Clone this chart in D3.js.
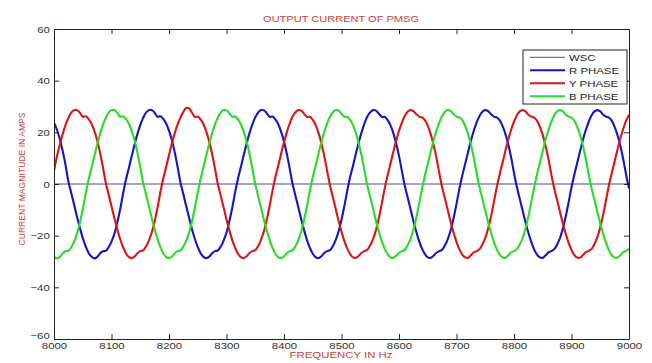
<!DOCTYPE html>
<html>
<head>
<meta charset="utf-8">
<script src="https://cdn.jsdelivr.net/npm/d3@7"></script>
<style>
  html, body { margin: 0; padding: 0; background: #fff; }
  svg { display: block; font-family: "Liberation Sans", Arial, sans-serif; }
</style>
</head>
<body>
<svg id="chart" width="652" height="363"></svg>
<script>
// ---------------- DATA ----------------
const chartTitle = "OUTPUT CURRENT OF PMSG";
const xTitle = "FREQUENCY IN Hz";
const yTitle = "CURRENT MAGNITUDE IN AMPS";
const seriesNames = ["WSC", "R PHASE", "Y PHASE", "B PHASE"];
const xTicks = [8000, 8100, 8200, 8300, 8400, 8500, 8600, 8700, 8800, 8900, 9000];
const yTicks = [-60, -40, -20, 0, 20, 40, 60];

// sample positions of the phase currents (every 5 Hz from 8000 to 9000)
const freq = d3.range(8000, 9001, 5);

// WSC trace (flat at zero)
const wscFreq = [8000, 9000];
const wscValues = [0, 0];

// R PHASE (blue)
const rPhase = [
  23.7, 21.1, 17.5, 12.9, 7.4, 1.0, -3.5, -8.0, -12.7, -17.0, -20.9, -24.1, -26.6,
  -28.1, -28.8, -28.3, -26.9, -26.0, -25.9, -24.5, -22.3, -19.3, -15.0, -9.9, -3.9, 1.6,
  6.0, 10.6, 15.2, 19.3, 22.8, 25.6, 27.6, 28.6, 28.6, 27.6, 26.0, 26.2, 25.2,
  23.4, 20.7, 17.0, 12.2, 6.6, 0.5, -4.0, -8.6, -13.2, -17.5, -21.3, -24.4, -26.8,
  -28.2, -28.7, -28.1, -26.8, -26.0, -25.7, -24.2, -21.9, -18.8, -14.4, -9.2, -3.2, 2.1,
  6.6, 11.2, 15.7, 19.7, 23.1, 25.8, 27.7, 28.6, 28.5, 27.4, 26.0, 26.1, 25.0,
  23.1, 20.2, 16.4, 11.6, 5.9, -0.1, -4.6, -9.1, -13.7, -17.9, -21.7, -24.7, -27.0,
  -28.3, -28.7, -28.0, -26.7, -26.0, -25.6, -24.0, -21.6, -18.3, -13.8, -8.5, -2.6, 2.7,
  7.1, 11.7, 16.2, 20.1, 23.5, 26.1, 27.8, 28.6, 28.4, 27.2, 26.0, 26.0, 24.8,
  22.8, 19.8, 15.8, 10.9, 5.1, -0.6, -5.1, -9.7, -14.3, -18.4, -22.1, -25.0, -27.1,
  -28.4, -28.6, -27.8, -26.6, -26.0, -25.4, -23.7, -21.2, -17.8, -13.2, -7.7, -1.9, 3.2,
  7.7, 12.3, 16.7, 20.6, 23.8, 26.3, 28.0, 28.6, 28.2, 27.0, 26.1, 25.8, 24.7,
  22.5, 19.4, 15.3, 10.3, 4.3, -1.2, -5.7, -10.3, -14.8, -18.9, -22.4, -25.3, -27.3,
  -28.4, -28.6, -27.6, -26.5, -26.0, -25.2, -23.4, -20.9, -17.2, -12.6, -7.0, -1.3, 3.7,
  8.2, 12.8, 17.2, 21.0, 24.1, 26.6, 28.1, 28.6, 28.1, 26.8, 26.1, 25.7, 24.5,
  22.1, 18.9, 14.7, 9.6, 3.6, -1.7
];

// Y PHASE (red)
const yPhase = [
  5.0, 10.6, 15.2, 19.3, 22.8, 25.6, 27.6, 28.6, 28.6, 27.6, 26.0, 26.2, 25.2,
  23.4, 20.7, 17.0, 12.2, 6.6, 0.5, -4.0, -8.6, -13.2, -17.5, -21.3, -24.4, -26.8,
  -28.2, -28.7, -28.1, -26.8, -26.0, -25.7, -24.2, -21.9, -18.8, -14.4, -9.2, -3.2, 2.1,
  6.6, 11.2, 15.7, 19.7, 23.1, 25.8, 27.9, 29.4, 29.3, 27.6, 26.0, 26.1, 25.0,
  23.1, 20.2, 16.4, 11.6, 5.9, -0.1, -4.6, -9.1, -13.7, -17.9, -21.7, -24.7, -27.0,
  -28.3, -28.7, -28.0, -26.7, -26.0, -25.6, -24.0, -21.6, -18.3, -13.8, -8.5, -2.6, 2.7,
  7.1, 11.7, 16.2, 20.1, 23.5, 26.1, 27.8, 28.6, 28.4, 27.2, 26.0, 26.0, 24.8,
  22.8, 19.8, 15.8, 10.9, 5.1, -0.6, -5.1, -9.7, -14.3, -18.4, -22.1, -25.0, -27.1,
  -28.4, -28.6, -27.8, -26.6, -26.0, -25.4, -23.7, -21.2, -17.8, -13.2, -7.7, -1.9, 3.2,
  7.7, 12.3, 16.7, 20.6, 23.8, 26.3, 28.0, 28.6, 28.2, 27.0, 26.1, 25.8, 24.7,
  22.5, 19.4, 15.3, 10.3, 4.3, -1.2, -5.7, -10.3, -14.8, -18.9, -22.4, -25.3, -27.3,
  -28.4, -28.6, -27.6, -26.5, -26.0, -25.2, -23.4, -20.9, -17.2, -12.6, -7.0, -1.3, 3.7,
  8.2, 12.8, 17.2, 21.0, 24.1, 26.6, 28.1, 28.6, 28.1, 26.8, 26.1, 25.7, 24.5,
  22.1, 18.9, 14.7, 9.6, 3.6, -1.7, -6.2, -10.8, -15.3, -19.3, -22.8, -25.6, -27.5,
  -28.5, -28.5, -27.5, -26.4, -25.9, -25.1, -23.2, -20.5, -16.7, -11.9, -6.3, -0.6, 4.2,
  8.8, 13.4, 17.7, 21.4, 24.5, 26.8
];

// B PHASE (green)
const bPhase = [
  -28.1, -28.8, -28.3, -26.9, -26.0, -25.9, -24.5, -22.3, -19.3, -15.0, -9.9, -3.9, 1.6,
  6.0, 10.6, 15.2, 19.3, 22.8, 25.6, 27.6, 28.6, 28.6, 27.6, 26.0, 26.2, 25.2,
  23.4, 20.7, 17.0, 12.2, 6.6, 0.5, -4.0, -8.6, -13.2, -17.5, -21.3, -24.4, -26.8,
  -28.2, -28.7, -28.1, -26.8, -26.0, -25.7, -24.2, -21.9, -18.8, -14.4, -9.2, -3.2, 2.1,
  6.6, 11.2, 15.7, 19.7, 23.1, 25.8, 27.7, 28.6, 28.5, 27.4, 26.0, 26.1, 25.0,
  23.1, 20.2, 16.4, 11.6, 5.9, -0.1, -4.6, -9.1, -13.7, -17.9, -21.7, -24.7, -27.0,
  -28.3, -28.7, -28.0, -26.7, -26.0, -25.6, -24.0, -21.6, -18.3, -13.8, -8.5, -2.6, 2.7,
  7.1, 11.7, 16.2, 20.1, 23.5, 26.1, 27.8, 28.6, 28.4, 27.2, 26.0, 26.0, 24.8,
  22.8, 19.8, 15.8, 10.9, 5.1, -0.6, -5.1, -9.7, -14.3, -18.4, -22.1, -25.0, -27.1,
  -28.4, -28.6, -27.8, -26.6, -26.0, -25.4, -23.7, -21.2, -17.8, -13.2, -7.7, -1.9, 3.2,
  7.7, 12.3, 16.7, 20.6, 23.8, 26.3, 28.0, 28.6, 28.2, 27.0, 26.1, 25.8, 24.7,
  22.5, 19.4, 15.3, 10.3, 4.3, -1.2, -5.7, -10.3, -14.8, -18.9, -22.4, -25.3, -27.3,
  -28.4, -28.6, -27.6, -26.5, -26.0, -25.2, -23.4, -20.9, -17.2, -12.6, -7.0, -1.3, 3.7,
  8.2, 12.8, 17.2, 21.0, 24.1, 26.6, 28.1, 28.6, 28.1, 26.8, 26.1, 25.7, 24.5,
  22.1, 18.9, 14.7, 9.6, 3.6, -1.7, -6.2, -10.8, -15.3, -19.3, -22.8, -25.6, -27.5,
  -28.5, -28.5, -27.5, -26.4, -25.9, -25.1
];

// ---------------- CHART ----------------
const W = 652, H = 363;
const margin = { left: 54, right: 23, top: 29, bottom: 24 };
const SX = 1.2; // horizontal stretch of the original raster text
const labelRed = "#c8403c";
const colors = { wsc: "#4b4b9c", r: "#1414c8", y: "#dc1414", b: "#28dc28" };

const svg = d3.select("#chart");
svg.append("rect").attr("width", W).attr("height", H).attr("fill", "#fff");

const x = d3.scaleLinear().domain([8000, 9000]).range([margin.left, W - margin.right]);
const y = d3.scaleLinear().domain([-60, 60]).range([H - margin.bottom, margin.top]);

svg.append("clipPath").attr("id", "clip")
  .append("rect")
  .attr("x", x(8000)).attr("y", y(60))
  .attr("width", x(9000) - x(8000)).attr("height", y(-60) - y(60));

const g = svg.append("g").attr("clip-path", "url(#clip)");

// WSC line
const wscLine = d3.line().x((d, i) => x(wscFreq[i])).y(d => y(d));
g.append("path").datum(wscValues)
  .attr("d", wscLine).attr("fill", "none")
  .attr("stroke", colors.wsc).attr("stroke-width", 1);

const phaseLine = d3.line()
  .x((d, i) => x(freq[i]))
  .y(d => y(d))
  .curve(d3.curveCatmullRom.alpha(0.5));

[[rPhase, colors.r], [yPhase, colors.y], [bPhase, colors.b]].forEach(([vals, c]) => {
  g.append("path").datum(vals)
    .attr("d", phaseLine).attr("fill", "none")
    .attr("stroke", c).attr("stroke-width", 2.1)
    .attr("stroke-linejoin", "round");
});

// Axes (box with inward ticks)
const axisColor = "#222";
const tickFont = 9.5;
const fmt = d3.format("d");

const xB = svg.append("g").attr("transform", `translate(0,${y(-60)})`)
  .call(d3.axisBottom(x).tickValues(xTicks).tickFormat(fmt).tickSizeInner(-5).tickSizeOuter(0).tickPadding(3));
const xT = svg.append("g").attr("transform", `translate(0,${y(60)})`)
  .call(d3.axisTop(x).tickValues(xTicks).tickSizeInner(-5).tickSizeOuter(0).tickFormat(""));
const yL = svg.append("g").attr("transform", `translate(${x(8000)},0)`)
  .call(d3.axisLeft(y).tickValues(yTicks).tickFormat(fmt).tickSizeInner(-5).tickSizeOuter(0).tickPadding(3));
const yR = svg.append("g").attr("transform", `translate(${x(9000)},0)`)
  .call(d3.axisRight(y).tickValues(yTicks).tickSizeInner(-5).tickSizeOuter(0).tickFormat(""));

[xB, xT, yL, yR].forEach(a => {
  a.select(".domain").attr("stroke", axisColor).attr("stroke-width", 1);
  a.selectAll(".tick line").attr("stroke", axisColor).attr("stroke-width", 1);
  a.selectAll(".tick text")
    .attr("fill", "#333")
    .attr("font-size", tickFont)
    .attr("font-family", "'Liberation Sans', Arial, sans-serif")
    .attr("transform", `scale(${SX},1)`);
});
// left labels: keep their right edge close to the axis after stretching
yL.selectAll(".tick text").attr("x", -3 / SX - 1);
// the bottom "-60" sits just above the first x label, as in the original
yL.selectAll(".tick text").filter(d => d === -60).attr("dy", "-0.05em");

// Titles
function stretchedText(px, py, str, size, color, anchor) {
  svg.append("text")
    .attr("transform", `translate(${px},${py}) scale(${SX},1)`)
    .attr("text-anchor", anchor || "middle")
    .attr("font-size", size)
    .attr("fill", color)
    .text(str);
}
stretchedText(341, 21.5, chartTitle, 9.2, labelRed);
stretchedText(341, 358, xTitle, 9.5, labelRed);

svg.append("text")
  .attr("transform", `translate(24.5,179) rotate(-90)`)
  .attr("text-anchor", "middle")
  .attr("font-size", 8.6)
  .attr("fill", labelRed)
  .text(yTitle);

// Legend
const lg = svg.append("g");
lg.append("rect")
  .attr("x", 523).attr("y", 50).attr("width", 104).attr("height", 54)
  .attr("fill", "#fff").attr("stroke", "#222").attr("stroke-width", 1);
const legendColors = [colors.wsc, colors.r, colors.y, colors.b];
const legendWidths = [1, 2.1, 2.1, 2.1];
const legendY = d3.scalePoint().domain(seriesNames).range([57.3, 96.3]);
seriesNames.forEach((name, i) => {
  const ly = legendY(name);
  lg.append("line")
    .attr("x1", 530).attr("x2", 565).attr("y1", ly).attr("y2", ly)
    .attr("stroke", legendColors[i]).attr("stroke-width", legendWidths[i]);
  lg.append("text")
    .attr("transform", `translate(569,${ly + 3.4}) scale(${SX},1)`)
    .attr("font-size", 9.5)
    .attr("fill", "#222")
    .text(name);
});
</script>
</body>
</html>
